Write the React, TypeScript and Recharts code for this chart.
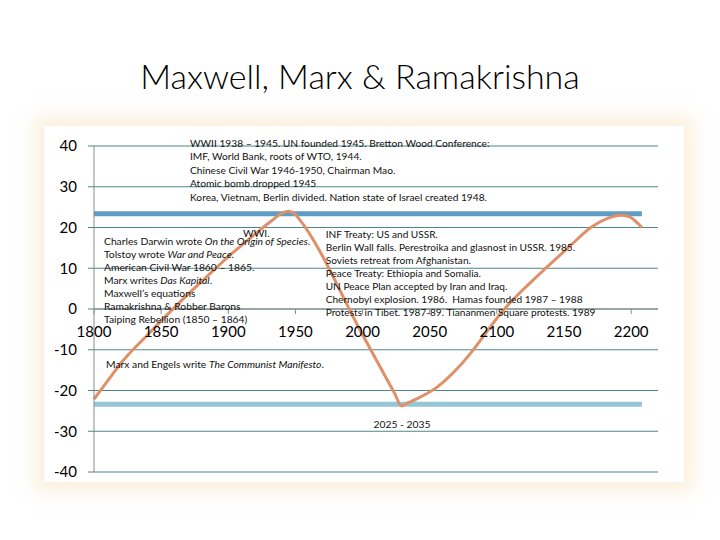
import React from "react";
import { LineChart, Line, XAxis, YAxis, CartesianGrid, ReferenceLine, ReferenceDot } from "recharts";

const waveYears = [1800, 1810, 1820, 1840, 1860, 1880, 1903, 1920, 1932, 1940, 1945, 1950, 1953, 2000, 2024, 2029, 2034, 2040, 2055, 2070, 2082, 2092, 2104, 2120, 2137, 2154, 2170, 2182, 2193, 2199, 2204, 2208];
const waveValues = [-22.1, -17.7, -13.3, -6.3, 0.4, 6.7, 13.7, 18.4, 21.6, 23.5, 24, 23.2, 22.0, -6.3, -20.8, -23.8, -23.0, -22.1, -19.3, -14.8, -10.2, -5.8, -0.6, 4.9, 10.2, 15.3, 20, 22.2, 23, 22.6, 21.3, 20];

const bandYears = [1800, 2208];
const upperBandValues = [23.4, 23.4];
const lowerBandValues = [-23.4, -23.4];

const xTicks = [1800, 1850, 1900, 1950, 2000, 2050, 2100, 2150, 2200];
const yTicks = [-40, -30, -20, -10, 0, 10, 20, 30, 40];

const titleText = "Maxwell, Marx & Ramakrishna";

type Seg = { t: string; i?: boolean };

const topNotes: Seg[][] = [
  [{ t: "WWII 1938 – 1945. UN founded 1945. Bretton Wood Conference:" }],
  [{ t: "IMF, World Bank, roots of WTO, 1944." }],
  [{ t: "Chinese Civil War 1946-1950, Chairman Mao." }],
  [{ t: "Atomic bomb dropped 1945" }],
  [{ t: "Korea, Vietnam, Berlin divided. Nation state of Israel created 1948." }],
];

const leftNotes: Seg[][] = [
  [{ t: "Charles Darwin wrote " }, { t: "On the Origin of Species", i: true }, { t: "." }],
  [{ t: "Tolstoy wrote " }, { t: "War and Peace", i: true }, { t: "." }],
  [{ t: "American Civil War 1860 – 1865." }],
  [{ t: "Marx writes " }, { t: "Das Kapital", i: true }, { t: "." }],
  [{ t: "Maxwell’s equations" }],
  [{ t: "Ramakrishna & Robber Barons" }],
  [{ t: "Taiping Rebellion (1850 – 1864)" }],
];

const rightNotes: Seg[][] = [
  [{ t: "INF Treaty: US and USSR." }],
  [{ t: "Berlin Wall falls. Perestroika and glasnost in USSR. 1985." }],
  [{ t: "Soviets retreat from Afghanistan." }],
  [{ t: "Peace Treaty: Ethiopia and Somalia." }],
  [{ t: "UN Peace Plan accepted by Iran and Iraq." }],
  [{ t: "Chernobyl explosion. 1986.  Hamas founded 1987 – 1988" }],
  [{ t: "Protests in Tibet. 1987-89. Tiananmen Square protests. 1989" }],
];

const wwiNote: Seg[][] = [[{ t: "WWI." }]];
const manifestoNote: Seg[][] = [
  [{ t: "Marx and Engels write " }, { t: "The Communist Manifesto", i: true }, { t: "." }],
];
const rangeNote: Seg[][] = [[{ t: "2025 - 2035" }]];

const wave = waveYears.map((year, i) => ({ year, v: waveValues[i] }));
const upperBand = bandYears.map((year, i) => ({ year, v: upperBandValues[i] }));
const lowerBand = bandYears.map((year, i) => ({ year, v: lowerBandValues[i] }));

const FONT = "Lato, 'Open Sans', sans-serif";
const GRID = "#4d8686";
const AXIS = "#8a8a8a";

function Note({ lines, left, top, lh, center, size = 10.3 }: { lines: Seg[][]; left: number; top: number; lh: number; center?: boolean; size?: number }) {
  return (
    <div
      style={{
        position: "absolute",
        left,
        top,
        fontFamily: FONT,
        fontSize: size,
        lineHeight: `${lh}px`,
        color: "#111",
        whiteSpace: "pre",
        transform: center ? "translateX(-50%)" : undefined,
        textAlign: center ? "center" : "left",
      }}
    >
      {lines.map((segs, k) => (
        <div key={k}>
          {segs.map((s, j) => (
            <span key={j} style={{ fontStyle: s.i ? "italic" : "normal" }}>
              {s.t}
            </span>
          ))}
        </div>
      ))}
    </div>
  );
}

const makeXLabel = (text: string) => (props: any) => {
  const vb = props.viewBox || {};
  const cx = (vb.x || 0) + (vb.width || 0) / 2;
  const cy = (vb.y || 0) + (vb.height || 0) / 2;
  return (
    <g>
      <line x1={cx} y1={cy} x2={cx} y2={cy + 5} stroke={AXIS} strokeWidth={1} />
      <text x={cx} y={cy + 22} textAnchor="middle" dominantBaseline="central" fontFamily={FONT} fontSize={15} fill="#000">
        {text}
      </text>
    </g>
  );
};

export default function App() {
  return (
    <div style={{ position: "absolute", left: 0, top: 0, width: 720, height: 540, background: "#fff", overflow: "hidden" }}>
      <div
        style={{
          position: "absolute",
          left: 44,
          top: 126,
          width: 640,
          height: 356,
          background: "#fff",
          boxShadow: "0 0 16px 9px rgba(250, 226, 185, 0.5)",
        }}
      />
      <div
        style={{
          position: "absolute",
          left: 0,
          width: 720,
          top: 54,
          textAlign: "center",
          fontFamily: FONT,
          fontWeight: 300,
          fontSize: 34,
          lineHeight: "44px",
          color: "#000",
        }}
      >
        {titleText}
      </div>
      <div style={{ position: "absolute", left: 0, top: 0 }}>
        <LineChart width={720} height={540} margin={{ top: 146, right: 62, bottom: 68, left: 34 }}>
          <CartesianGrid horizontal vertical={false} stroke={GRID} strokeWidth={1} />
          <XAxis type="number" dataKey="year" domain={[1800, 2220]} ticks={xTicks} hide />
          <YAxis
            type="number"
            domain={[-40, 40]}
            ticks={yTicks}
            width={60}
            axisLine={{ stroke: AXIS }}
            tickLine={{ stroke: GRID }}
            tickSize={6}
            tickMargin={11}
            tick={{ fontFamily: FONT, fontSize: 15, fill: "#000" }}
            interval={0}
          />
          <ReferenceLine y={0} stroke={AXIS} strokeWidth={1} ifOverflow="extendDomain" />
          <Line data={upperBand} dataKey="v" type="linear" stroke="#5f9dc5" strokeWidth={5} dot={false} isAnimationActive={false} />
          <Line data={lowerBand} dataKey="v" type="linear" stroke="#93c6d6" strokeWidth={5} dot={false} isAnimationActive={false} />
          <Line data={wave} dataKey="v" type="monotone" stroke="#df9068" strokeWidth={3} dot={false} isAnimationActive={false} />
          {xTicks.map((t) => (
            <ReferenceDot
              key={t}
              x={t}
              y={0}
              r={1}
              fillOpacity={0}
              strokeOpacity={0}
              ifOverflow="visible"
              label={makeXLabel(String(t))}
            />
          ))}
        </LineChart>
      </div>
      <Note lines={topNotes} left={190} top={136.5} lh={13.5} size={10.2} />
      <Note lines={wwiNote} left={243} top={226.8} lh={13} />
      <Note lines={leftNotes} left={104} top={235.2} lh={13.05} />
      <Note lines={rightNotes} left={325.7} top={227.5} lh={13.05} size={10.1} />
      <Note lines={manifestoNote} left={106} top={357.8} lh={13} />
      <Note lines={rangeNote} left={402} top={417.5} lh={13} center />
    </div>
  );
}
